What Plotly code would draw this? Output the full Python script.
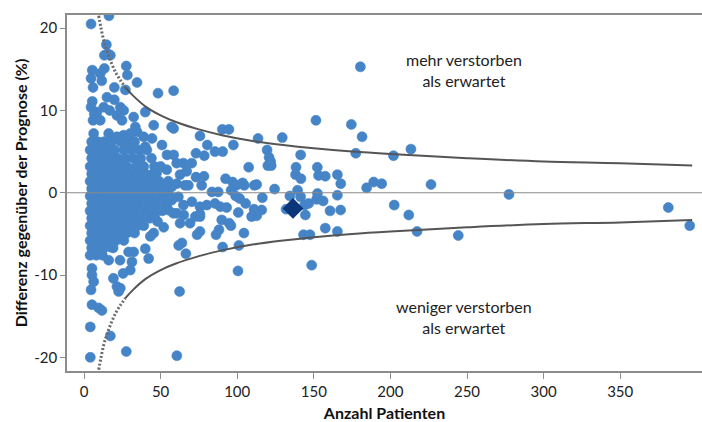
import plotly.graph_objects as go

# --- Krankenhäuser: (Anzahl Patienten, Differenz gegenüber der Prognose in %) ---
points_right = [(213.4, 5.3), (226.5, 1.0), (277.4, -0.2), (202.5, -1.5), (212, -2.7),
                (217.4, -4.7), (244.3, -5.2), (381.4, -1.8), (395.4, -4.0), (202, 4.5)]

points_mid = [(180.4, 15.3), (151.4, 8.8), (174.5, 8.3), (181.5, 6.8), (177.4, 4.8),
              (90.3, 7.7), (94.6, 7.7), (75.7, 6.9), (113.6, 6.6), (129.4, 6.7), (80.5, 5.8),
              (97.5, 5.8), (85.5, 5.0), (90.5, 5.0), (78.5, 4.5), (119.5, 5.2), (120.8, 4.3),
              (121.8, 3.8), (120, 3.3), (122.2, 3.3), (141.4, 4.6), (107.5, 3.1), (138.4, 3.1),
              (152.3, 3.1), (138.1, 2.2), (141.6, 1.7), (153.1, 2.1), (157.5, 2.0), (165.4, 2.2),
              (167.6, 1.1), (184.5, 0.6), (189.1, 1.3), (194.3, 1.1), (78.3, 2.0), (76.8, 0.9),
              (92.4, 1.7), (97, 1.3), (99.4, 0.9), (103.5, 1.2), (104.6, 0.9), (111.2, 0.9),
              (112.7, 1.0), (83.5, 0.1), (87.6, 0.1), (96, 0.3), (99, -0.4), (101.6, -0.7),
              (105.5, -1.3), (124.4, 0.45), (116.4, -0.6), (134.4, -0.4), (139.4, 0.3),
              (141.4, -0.5), (131.9, -2.0), (144, -1.5), (146.6, -1.3), (151.8, -0.8),
              (152.4, -0.1), (156.1, -1.0), (165.4, -0.3), (160.6, -2.2), (167.5, -2.1),
              (144.5, -2.7), (157.5, -4.3), (165.4, -4.7), (143.3, -5.1), (147.5, -5.1),
              (148.6, -8.8), (75.7, -1.7), (75.7, -2.6), (85.5, -1.3), (89, -1.7), (93.1, -1.8),
              (100.7, -2.4), (111, -2.0), (116, -2.1), (112.7, -2.8), (109.4, -2.9), (89.9, -3.3),
              (94.8, -3.7), (95.9, -4.0), (104.4, -4.9), (88.1, -4.5), (86.2, -5.1), (75.7, -4.7),
              (90.5, -6.6), (101.1, -6.4), (100.5, -9.5)]

points_left = [(4.6, 20.5), (16.3, 21.5), (14.6, 18.0), (13.3, 16.7), (17.2, 16.7), (15.5, 16.9),
               (27.6, 15.4), (28.3, 14.3), (34.6, 13.4), (5.4, 14.9), (4.6, 13.9), (5.9, 12.8),
               (10.6, 14.5), (13.3, 15.1), (11.6, 13.6), (19.8, 12.8), (27, 12.5), (48.3, 12.1),
               (58.5, 12.4), (15, 11.6), (19.8, 11.3), (5.4, 11.1), (4.6, 10.4), (5.9, 8.8),
               (8.5, 9.8), (12.9, 10.4), (16.8, 10.0), (6.7, 9.6), (10.6, 8.8), (23.7, 10.4),
               (25.9, 10.0), (21.5, 9.4), (24.8, 8.8), (32.4, 9.2), (33.5, 8.0), (40, 9.8),
               (45.5, 8.2), (58.5, 7.8), (57.2, 8.0), (6.3, 7.2), (7.4, 6.0), (16.1, 7.2),
               (21.5, 6.8), (25.9, 7.0), (30.2, 7.2), (34.6, 7.4), (40, 5.6), (44.4, 6.6),
               (50.9, 5.8), (54.2, 4.6), (58.5, 4.6), (38.9, 6.8), (60.5, 3.6), (70.3, 3.6),
               (73.1, 4.8), (65.9, 0.9), (73.1, 1.9), (64.8, 3.6), (54, 2.8), (47.4, 2.4),
               (43.1, 1.9), (62.7, 2.2), (67, 2.6), (68.1, 0.9), (60.5, 1.1), (57.2, 0.7),
               (52.9, 0.5), (57.2, -0.9), (61.6, -0.5), (64.9, -1.5), (70.4, -1.1), (80.2, -1.5),
               (55, -2.1), (58.3, -2.5), (62.7, -3.7), (69.2, -3.7), (75.7, -2.9), (73.8, -5.1),
               (61.8, -6.4), (63.9, -6.1), (66.5, -7.4), (45.5, -4.9), (43.3, -5.3), (40, -6.8),
               (32.4, -7.2), (29.1, -7.2), (31.3, -8.4), (42.2, -8.0), (30.2, -9.4), (25.5, -9.8),
               (19.2, -10.4), (16.1, -8.2), (23.5, -8.2), (21.5, -11.4), (23.7, -11.6),
               (22.6, -12.0), (17.2, -6.6), (5.2, -9.2), (5.2, -10.0), (6.3, -10.8), (4.6, -11.8),
               (5.2, -13.6), (9.6, -14.0), (11.7, -14.3), (4.1, -16.3), (17.2, -17.4),
               (4.1, -20.0), (27.6, -19.3), (60.6, -19.8), (62.4, -12.0), (48, -3.5), (52, -4.2),
               (46, -2.8), (54.2, -1.3), (60.6, -2.5), (65.1, -2.7), (72.7, -2.9)]

# dichter Kern kleiner Häuser: (Differenz, [Anzahl Patienten ...])
core_rows = [
    (6.2, [5, 9, 13, 18, 24, 29, 33]),
    (5.2, [4, 8, 12, 16, 20, 26, 31, 36, 41]),
    (4.2, [5, 9, 14, 18, 22, 27, 32, 37, 44]),
    (3.2, [4, 7, 11, 15, 19, 24, 28, 34, 39, 46, 50]),
    (2.3, [5, 9, 13, 17, 21, 26, 30, 35, 40, 45]),
    (1.4, [4, 7, 11, 15, 19, 23, 28, 33, 38, 43, 49, 55]),
    (0.5, [5, 9, 13, 17, 22, 26, 31, 36, 41, 46, 52]),
    (-0.4, [4, 8, 12, 16, 20, 24, 29, 34, 39, 44, 50, 56]),
    (-1.3, [5, 9, 13, 17, 21, 26, 31, 36, 42, 47, 53]),
    (-2.2, [4, 8, 12, 16, 20, 24, 29, 34, 40, 46, 51]),
    (-3.1, [5, 9, 13, 17, 22, 27, 32, 37, 43]),
    (-4.0, [4, 8, 12, 16, 20, 25, 30, 35, 39]),
    (-4.9, [5, 9, 13, 18, 23, 28, 33]),
    (-5.8, [4, 8, 12, 16, 21, 26]),
    (-6.7, [5, 9, 13, 19]),
    (-7.6, [4, 8, 12]),
]

# Gesamtwert (Raute)
total_n = [136.4]
total_diff = [-1.9]

# Kontrollgrenzen (Trichter)
limit_n_dotted = [9.6, 11, 13, 15, 18, 21, 24, 27]
limit_up_dotted = [21.5, 20.1, 18.4, 17.2, 15.7, 14.5, 13.6, 12.8]
limit_lo_dotted = [-21.5, -20.1, -18.4, -17.2, -15.7, -14.5, -13.6, -12.8]
limit_n_solid = [27, 32, 40, 50, 60, 75, 90, 110, 130, 150, 175, 200, 250, 300, 350, 397]
limit_up_solid = [12.8, 11.8, 10.5, 9.4, 8.6, 7.7, 7.0, 6.3, 5.8, 5.4, 5.0, 4.7, 4.2, 3.8, 3.6, 3.3]
limit_lo_solid = [-12.8, -11.8, -10.5, -9.4, -8.6, -7.7, -7.0, -6.3, -5.8, -5.4, -5.0, -4.7,
                  -4.2, -3.8, -3.6, -3.3]

x_ticks = [0, 50, 100, 150, 200, 250, 300, 350]
y_ticks = [-20, -10, 0, 10, 20]
y_ticktext = ["-20", "-10", "0", "10", "20"]

n_vals, d_vals = [], []
for p in points_left + points_mid + points_right:
    n_vals.append(p[0])
    d_vals.append(p[1])
for yv, xs in core_rows:
    for xv in xs:
        n_vals.append(xv)
        d_vals.append(yv)

FONT = "Lato"
POINT = "#4584c6"
LINE = "#555555"
AXIS = "#8c8c8c"

fig = go.Figure()
fig.add_trace(go.Scatter(x=n_vals, y=d_vals, mode="markers",
                         marker=dict(color=POINT, size=10, line=dict(width=0.6, color=POINT)),
                         showlegend=False, hoverinfo="x+y"))
for xs, ys in [(limit_n_dotted, limit_up_dotted), (limit_n_dotted, limit_lo_dotted)]:
    fig.add_trace(go.Scatter(x=xs, y=ys, mode="lines",
                             line=dict(color="#6a6a6a", width=3, dash="2px,2px", shape="spline"),
                             showlegend=False, hoverinfo="skip"))
for xs, ys in [(limit_n_solid, limit_up_solid), (limit_n_solid, limit_lo_solid)]:
    fig.add_trace(go.Scatter(x=xs, y=ys, mode="lines", line=dict(color=LINE, width=2, shape="spline"),
                             showlegend=False, hoverinfo="skip"))
fig.add_trace(go.Scatter(x=total_n, y=total_diff, mode="markers",
                         marker=dict(color="#0b377a", size=16, symbol="diamond", line=dict(width=0)),
                         showlegend=False))

fig.add_shape(type="line", xref="paper", x0=0, x1=1, yref="y", y0=0, y1=0,
              line=dict(color="#8a8a8a", width=1.2), layer="above")

fig.add_annotation(x=248, y=14.9, text="mehr verstorben<br>als erwartet", showarrow=False,
                   font=dict(family=FONT, size=16, color="#222222"))
fig.add_annotation(x=248, y=-15.1, text="weniger verstorben<br>als erwartet", showarrow=False,
                   font=dict(family=FONT, size=16, color="#222222"))

fig.update_layout(
    width=702, height=422,
    margin=dict(l=67, r=0, t=15, b=51, autoexpand=False),
    paper_bgcolor="white", plot_bgcolor="white",
    font=dict(family=FONT, size=15, color="#222222"),
    xaxis=dict(range=[-11.1, 403.4], tickvals=x_ticks, showgrid=False, zeroline=False,
               automargin=False,
               showline=True, linecolor=AXIS, linewidth=1.5, mirror=True,
               ticks="outside", ticklen=6, tickcolor=AXIS, tickwidth=1,
               tickfont=dict(family=FONT, size=15, color="#222222"),
               title=dict(text="<b>Anzahl Patienten</b>", standoff=16,
                          font=dict(family=FONT, size=16, color="#111111"))),
    yaxis=dict(range=[-21.66, 21.6], tickvals=y_ticks, ticktext=y_ticktext, showgrid=False,
               automargin=False,
               zeroline=False, showline=True, linecolor=AXIS, linewidth=1.5,
               ticks="outside", ticklen=5, tickcolor=AXIS, tickwidth=1,
               tickfont=dict(family=FONT, size=15, color="#222222"),
               title=dict(text="<b>Differenz gegenüber der Prognose (%)</b>", standoff=3,
                          font=dict(family=FONT, size=16, color="#111111"))),
)

fig.write_html("out.html")
